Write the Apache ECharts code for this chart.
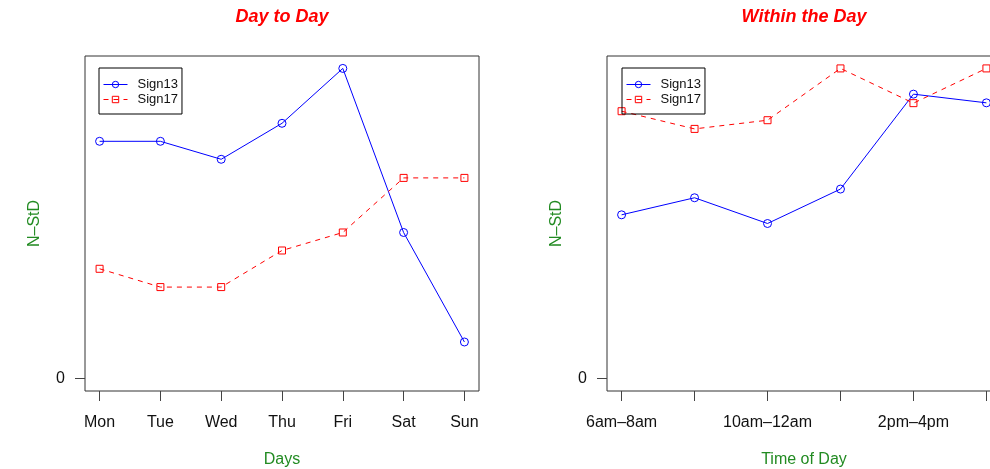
<!DOCTYPE html>
<html>
<head>
<meta charset="utf-8">
<script src="https://cdn.jsdelivr.net/npm/echarts@6/dist/echarts.min.js"></script>
<style>
  html, body { margin: 0; padding: 0; background: #fff; }
  #chart { width: 990px; height: 469px; }
</style>
</head>
<body>
<div id="chart"></div>
<script>
// Day-to-day panel
const days = ['Mon', 'Tue', 'Wed', 'Thu', 'Fri', 'Sat', 'Sun'];
const daySign13 = [0.765, 0.765, 0.707, 0.823, 1.000, 0.471, 0.118];
const daySign17 = [0.354, 0.295, 0.295, 0.413, 0.471, 0.647, 0.647];

// Within-the-day panel
const slots = ['6am\u20138am', '8am\u201310am', '10am\u201312am', '12am\u20132pm', '2pm\u20134pm', '4pm\u20136pm'];
const slotSign13 = [0.528, 0.583, 0.500, 0.611, 0.917, 0.889];
const slotSign17 = [0.862, 0.805, 0.833, 1.000, 0.888, 1.000];
const slotLabelShown = [1, 3, 5];

const yTicks = [0];
const seriesNames = ['Sign13', 'Sign17'];

const FONT = "'Liberation Sans', Arial, Helvetica, sans-serif";
const GREEN = '#228B22';
const BLUE = '#0000FF';
const RED = '#FF0000';

// Positions: index -> x value (1-based)
const pts = arr => arr.map((v, i) => [i + 1, v]);
const idxs = n => Array.from({ length: n }, (_, i) => i + 1);

// Axis range padded by 4% on each side
const padRange = (lo, hi) => {
  const d = (hi - lo) * 0.04;
  return [lo - d, hi + d];
};

function xAxisFor(gridIndex, labels, shown, name) {
  const [mn, mx] = padRange(1, labels.length);
  return {
    type: 'value', gridIndex, min: mn, max: mx,
    name, nameLocation: 'middle', nameGap: 61,
    nameTextStyle: { color: GREEN, fontSize: 16, fontFamily: FONT },
    axisLine: { show: false, onZero: false },
    splitLine: { show: false },
    axisTick: { show: true, length: 10, customValues: idxs(labels.length), lineStyle: { color: '#444', width: 1 } },
    axisLabel: {
      customValues: shown, margin: 24,
      formatter: v => labels[Math.round(v) - 1] || '',
      fontSize: 16, color: '#111', fontFamily: FONT
    }
  };
}

function yAxisFor(gridIndex, values) {
  const [mn, mx] = padRange(0, Math.max(...values));
  return {
    type: 'value', gridIndex, min: mn, max: mx,
    name: 'N\u2013StD', nameLocation: 'middle', nameGap: 42,
    nameTextStyle: { color: GREEN, fontSize: 16, fontFamily: FONT },
    axisLine: { show: false, onZero: false },
    splitLine: { show: false },
    axisTick: { show: true, length: 10, customValues: yTicks, lineStyle: { color: '#444', width: 1 } },
    axisLabel: {
      customValues: yTicks, margin: 20,
      fontSize: 16, color: '#111', fontFamily: FONT
    }
  };
}

function lineSeries(name, data, idx) {
  const isBlue = name === 'Sign13';
  const c = isBlue ? BLUE : RED;
  return {
    name, type: 'line', xAxisIndex: idx, yAxisIndex: idx,
    data: pts(data),
    symbol: isBlue ? 'circle' : 'rect',
    symbolSize: isBlue ? 8 : 7,
    showAllSymbol: true,
    itemStyle: { color: 'rgba(255,255,255,0)', borderColor: c, borderWidth: 1 },
    lineStyle: { color: c, width: 1, type: isBlue ? 'solid' : [5, 5] },
    emphasis: { disabled: true },
    animation: false
  };
}

function legendAt(left) {
  return {
    data: seriesNames, orient: 'vertical', left, top: 68,
    padding: [10, 4, 8, 4],
    itemWidth: 24, itemHeight: 8, itemGap: 2,
    borderColor: '#000', borderWidth: 1, borderRadius: 0,
    selectedMode: false,
    lineStyle: { width: 1 },
    itemStyle: { borderWidth: 1 },
    textStyle: { fontSize: 13, color: '#111', fontFamily: FONT, padding: [0, 0, 0, 5] }
  };
}

const titleStyle = { color: RED, fontStyle: 'italic', fontWeight: 'bold', fontSize: 18, fontFamily: FONT };

const gridBase = {
  top: 56, height: 335, width: 394, show: true, borderColor: '#333', borderWidth: 1,
  backgroundColor: 'transparent', outerBoundsMode: 'none', containLabel: false
};

const option = {
  backgroundColor: '#fff',
  animation: false,
  title: [
    { text: 'Day to Day', left: 282, top: 8, textAlign: 'center', padding: 0, textStyle: titleStyle },
    { text: 'Within the Day', left: 804, top: 8, textAlign: 'center', padding: 0, textStyle: titleStyle }
  ],
  legend: [legendAt(99), legendAt(622)],
  grid: [
    Object.assign({ left: 85 }, gridBase),
    Object.assign({ left: 607 }, gridBase)
  ],
  xAxis: [
    xAxisFor(0, days, idxs(days.length), 'Days'),
    xAxisFor(1, slots, slotLabelShown, 'Time of Day')
  ],
  yAxis: [
    yAxisFor(0, daySign13.concat(daySign17)),
    yAxisFor(1, slotSign13.concat(slotSign17))
  ],
  series: [
    lineSeries('Sign13', daySign13, 0),
    lineSeries('Sign17', daySign17, 0),
    lineSeries('Sign13', slotSign13, 1),
    lineSeries('Sign17', slotSign17, 1)
  ]
};

const chart = echarts.init(document.getElementById('chart'), null, { renderer: 'canvas' });
chart.setOption(option);
</script>
</body>
</html>
